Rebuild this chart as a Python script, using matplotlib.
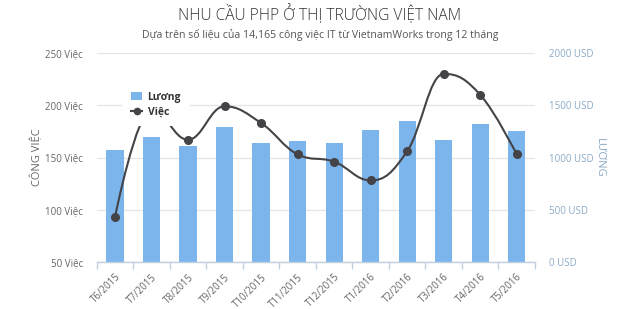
import numpy as np
import matplotlib
matplotlib.use("Agg")
import matplotlib.pyplot as plt
from matplotlib.path import Path
from matplotlib.patches import PathPatch
from matplotlib.lines import Line2D
from matplotlib.patches import Patch

plt.rcParams['font.family'] = ['Open Sans', 'DejaVu Sans']

categories = ["T6/2015", "T7/2015", "T8/2015", "T9/2015", "T10/2015", "T11/2015",
              "T12/2015", "T1/2016", "T2/2016", "T3/2016", "T4/2016", "T5/2016"]
salary_usd = [1072, 1193, 1110, 1289, 1142, 1158, 1142, 1263, 1349, 1167, 1321, 1254]
jobs = [93, 196, 167, 199, 183, 153, 146, 128, 156, 230, 210, 153]
left_ticks = [50, 100, 150, 200, 250]
right_ticks = [0, 500, 1000, 1500, 2000]

BAR_C = '#7CB5EC'
LINE_C = '#434348'
GRID_C = '#E6E6E6'
AXIS_C = '#C0D0E0'
RIGHT_C = '#8AAAC8'

W, H = 640, 309
fig = plt.figure(figsize=(W / 100, H / 100), dpi=100)
L, R, T, B = 96.7, 535, 53, 262
ax = fig.add_axes([L / W, 1 - B / H, (R - L) / W, (B - T) / H])

x = np.arange(len(categories))
ax.bar(x, salary_usd, width=0.47, color=BAR_C, zorder=2)
ax.set_xlim(-0.5, len(categories) - 0.5)
ax.set_ylim(0, 2000)
ax.grid(axis='y', color=GRID_C, linewidth=1, zorder=0)
ax.set_axisbelow(True)
for s in ['top', 'left', 'right']:
    ax.spines[s].set_visible(False)
ax.spines['bottom'].set_color(AXIS_C)
ax.spines['bottom'].set_linewidth(1)
ax.set_xticks(np.arange(len(categories) + 1) - 0.5, minor=True)
ax.set_xticks(x)
ax.set_xticklabels(categories, rotation=45, ha='right', rotation_mode='anchor')
ax.tick_params(axis='x', which='major', length=0, pad=7, labelsize=7, labelcolor='#666666')
ax.tick_params(axis='x', which='minor', length=5, color=AXIS_C, width=1)

ax2 = ax.twinx()
ax2.set_ylim(50, 250)
ax2.set_yticks(left_ticks)
ax2.set_yticklabels([f"{v} Việc" for v in left_ticks])
ax2.yaxis.tick_left()
ax2.yaxis.set_label_position('left')
ax2.tick_params(axis='y', length=0, pad=10, labelsize=7, labelcolor='#666666')
ax2.set_ylabel("CÔNG VIỆC", color='#666666', fontsize=8, labelpad=1)
for s in ax2.spines.values():
    s.set_visible(False)

# right axis (salary) set after twinx so it stays on the right
ax.set_yticks(right_ticks)
ax.set_yticklabels([f"{v} USD" for v in right_ticks])
ax.yaxis.tick_right()
ax.yaxis.set_label_position('right')
ax.tick_params(axis='y', which='both', left=False, right=False, labelleft=False, labelright=True,
               length=0, pad=10, labelsize=7, labelcolor=RIGHT_C)
ax.set_ylabel("LƯƠNG", color=RIGHT_C, fontsize=8, rotation=270, labelpad=8)

# Highcharts-style spline in pixel space
pts = ax2.transData.transform(np.column_stack([x, jobs]))
n = len(pts)
verts = [tuple(pts[0])]
codes = [Path.MOVETO]
sm, den = 1.5, 2.5
rc = [None] * n
lc = [None] * n
for i in range(1, n - 1):
    px, py = pts[i]
    lx, ly = pts[i - 1]
    nx, ny = pts[i + 1]
    lcx = (sm * px + lx) / den
    lcy = (sm * py + ly) / den
    rcx = (sm * px + nx) / den
    rcy = (sm * py + ny) / den
    corr = (rcy - lcy) * (rcx - px) / (rcx - lcx) + py - rcy
    lcy += corr
    rcy += corr
    if lcy > ly and lcy > py:
        lcy = max(ly, py); rcy = 2 * py - lcy
    elif lcy < ly and lcy < py:
        lcy = min(ly, py); rcy = 2 * py - lcy
    if rcy > ny and rcy > py:
        rcy = max(ny, py); lcy = 2 * py - rcy
    elif rcy < ny and rcy < py:
        rcy = min(ny, py); lcy = 2 * py - rcy
    lc[i] = (lcx, lcy)
    rc[i] = (rcx, rcy)
for i in range(1, n):
    p0 = rc[i - 1] if rc[i - 1] is not None else tuple(pts[i - 1])
    p1 = lc[i] if lc[i] is not None else tuple(pts[i])
    verts += [p0, p1, tuple(pts[i])]
    codes += [Path.CURVE4] * 3
dverts = ax2.transData.inverted().transform(np.array(verts))
patch = PathPatch(Path(dverts, codes), facecolor='none', edgecolor=LINE_C, linewidth=1.5, zorder=3)
ax2.add_patch(patch)
ax2.plot(x, jobs, linestyle='none', marker='o', markersize=5.5, color=LINE_C, zorder=4)

handles = [Patch(facecolor=BAR_C, edgecolor='none'),
           Line2D([0], [0], color=LINE_C, marker='o', markersize=4.5, linewidth=1.5)]
leg = ax2.legend(handles, ["Lương", "Việc"], loc='upper left',
                 bbox_to_anchor=(122 / W, 1 - 83 / H), bbox_transform=fig.transFigure,
                 frameon=True, fancybox=False, framealpha=1, facecolor='white', edgecolor='none',
                 borderaxespad=0, borderpad=0.85, handlelength=1.1, handleheight=0.8,
                 handletextpad=0.5, labelspacing=0.35,
                 prop={'size': 7.5, 'weight': 'bold'})
for t in leg.get_texts():
    t.set_color('#333333')
leg.set_zorder(10)

fig.text(320 / W, 1 - 14 / H, "NHU CẦU PHP Ở THỊ TRƯỜNG VIỆT NAM", ha='center', va='center',
         fontsize=11.2, color='#333333', fontweight='light')
fig.text(320 / W, 1 - 35 / H, "Dựa trên số liệu của 14,165 công việc IT từ VietnamWorks trong 12 tháng",
         ha='center', va='center', fontsize=7.6, color='#555555')

fig.savefig("out.png", dpi=100)
